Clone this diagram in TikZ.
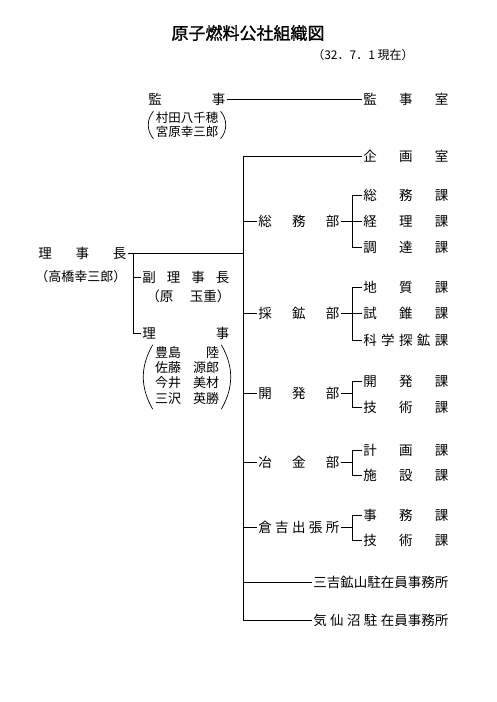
\documentclass[tikz,border=0pt]{standalone}
\usepackage{fontspec}
\setmainfont{Noto Sans CJK JP}
\newfontfamily\titlefont[FakeBold=1.2]{Noto Sans CJK JP}
\usetikzlibrary{positioning}
\newcommand{\spr}[2]{\makebox[#1pt][s]{#2}}

\begin{document}
\begin{tikzpicture}[x=1pt,y=-1pt,line width=0.6pt,
  lbl/.style={anchor=west,inner sep=1pt,font=\fontsize{13.5}{15}\selectfont},
  sml/.style={inner sep=1pt,align=left},
  paren/.style={line width=0.7pt}]
\useasboundingbox[fill=white] (0,0) rectangle (496,702);
\node[font=\titlefont\fontsize{17}{20}\selectfont] (title) at (248,33) {原子燃料公社組織図};
\node[lbl,font=\fontsize{12}{14}\selectfont] (date) at (311,55) {（32．7．1 現在）};
% 監事
\node[lbl] (kanji) at (147,99) {\spr{77}{監\hfill 事}};
\node[sml,font=\fontsize{12.5}{13.5}\selectfont] (kanjimei) at (187,125) {村田八千穂\\宮原幸三郎};
\draw[paren] ([xshift=-1pt]kanjimei.north west) to[bend right=40] ([xshift=-1pt]kanjimei.south west);
\draw[paren] ([xshift=1pt]kanjimei.north east) to[bend left=40] ([xshift=1pt]kanjimei.south east);
\node[lbl] (kanjishitsu) at (362,99) {\spr{85}{監\hfill 事\hfill 室}};
\draw (kanji) -- (kanjishitsu);
% 幹線
\node[lbl] (kikaku) at (362,156) {\spr{85}{企\hfill 画\hfill 室}};
\coordinate (top) at (243,156);
\node[lbl] (kesen) at (312,620) {\spr{135}{気\hfill 仙\hfill 沼\hfill 駐\hfill 在員事務所}};
\draw (kikaku.west) -- (top) -- (top |- kesen.west) -- (kesen.west);
% 理事長
\node[lbl] (rijicho) at (37,253) {\spr{88}{理\hfill 事\hfill 長}};
\node[lbl,font=\fontsize{13}{15}\selectfont] (takahashi) at (34,277) {（高橋幸三郎）};
\coordinate (sub) at (133,253);
\draw (rijicho.east) -- (rijicho.east -| top);
\node[lbl] (fuku) at (141,277) {\spr{87}{副\hfill 理\hfill 事\hfill 長}};
\node[lbl] (hara) at (145,296) {\spr{84}{（原\hfill 玉重）}};
\node[lbl] (riji) at (141,333) {\spr{87}{理\hfill 事}};
\node[sml,font=\fontsize{13}{15}\selectfont] (rijimei) at (187,377) {\begin{tabular}{@{}l@{\hspace{12pt}}r@{}}豊島&陸\\佐藤&源郎\\今井&美材\\三沢&英勝\end{tabular}};
\draw[paren] ([xshift=-1pt]rijimei.north west) to[bend right=30] ([xshift=-1pt]rijimei.south west);
\draw[paren] ([xshift=1pt]rijimei.north east) to[bend left=30] ([xshift=1pt]rijimei.south east);
\draw (sub) -- (sub |- riji.west) -- (riji.west);
\draw (sub |- fuku.west) -- (fuku.west);
% 部・課
\coordinate (brk) at (352,0);
\node[lbl] (soumu) at (257,221) {\spr{81}{総\hfill 務\hfill 部}};
\node[lbl] (soumuka) at (362,195) {\spr{85}{総\hfill 務\hfill 課}};
\node[lbl] (keirika) at (362,221) {\spr{85}{経\hfill 理\hfill 課}};
\node[lbl] (choutatsuka) at (362,247) {\spr{85}{調\hfill 達\hfill 課}};
\draw (soumu.west -| top) -- (soumu.west);
\draw (soumu.east) -- (keirika.west);
\draw (soumuka.west) -- (soumuka.west -| brk) -- (choutatsuka.west -| brk) -- (choutatsuka.west);
\node[lbl] (saikou) at (257,313) {\spr{81}{採\hfill 鉱\hfill 部}};
\node[lbl] (chishitsuka) at (362,287) {\spr{85}{地\hfill 質\hfill 課}};
\node[lbl] (shisuika) at (362,313) {\spr{85}{試\hfill 錐\hfill 課}};
\node[lbl] (tankouka) at (362,340) {\spr{85}{科\hfill 学\hfill 探\hfill 鉱\hfill 課}};
\draw (saikou.west -| top) -- (saikou.west);
\draw (saikou.east) -- (shisuika.west);
\draw (chishitsuka.west) -- (chishitsuka.west -| brk) -- (tankouka.west -| brk) -- (tankouka.west);
\node[lbl] (kaihatsu) at (257,393) {\spr{81}{開\hfill 発\hfill 部}};
\node[lbl] (kaihatsuka) at (362,381) {\spr{85}{開\hfill 発\hfill 課}};
\node[lbl] (gijutsuka) at (362,407) {\spr{85}{技\hfill 術\hfill 課}};
\draw (kaihatsu.west -| top) -- (kaihatsu.west);
\draw (kaihatsu.east) -- (kaihatsu.east -| brk);
\draw (kaihatsuka.west) -- (kaihatsuka.west -| brk) -- (gijutsuka.west -| brk) -- (gijutsuka.west);
\node[lbl] (yakin) at (257,462) {\spr{81}{冶\hfill 金\hfill 部}};
\node[lbl] (keikakuka) at (362,450) {\spr{85}{計\hfill 画\hfill 課}};
\node[lbl] (shisetsuka) at (362,475) {\spr{85}{施\hfill 設\hfill 課}};
\draw (yakin.west -| top) -- (yakin.west);
\draw (yakin.east) -- (yakin.east -| brk);
\draw (keikakuka.west) -- (keikakuka.west -| brk) -- (shisetsuka.west -| brk) -- (shisetsuka.west);
\node[lbl] (kurayoshi) at (257,527) {\spr{81}{倉\hfill 吉\hfill 出\hfill 張\hfill 所}};
\node[lbl] (jimuka) at (362,515) {\spr{85}{事\hfill 務\hfill 課}};
\node[lbl] (gijutsuka2) at (362,540) {\spr{85}{技\hfill 術\hfill 課}};
\draw (kurayoshi.west -| top) -- (kurayoshi.west);
\draw (kurayoshi.east) -- (kurayoshi.east -| brk);
\draw (jimuka.west) -- (jimuka.west -| brk) -- (gijutsuka2.west -| brk) -- (gijutsuka2.west);
\node[lbl] (miyoshi) at (312,582) {\spr{135}{三吉鉱山駐在員事務所}};
\draw (miyoshi.west -| top) -- (miyoshi.west);
\end{tikzpicture}
\end{document}
